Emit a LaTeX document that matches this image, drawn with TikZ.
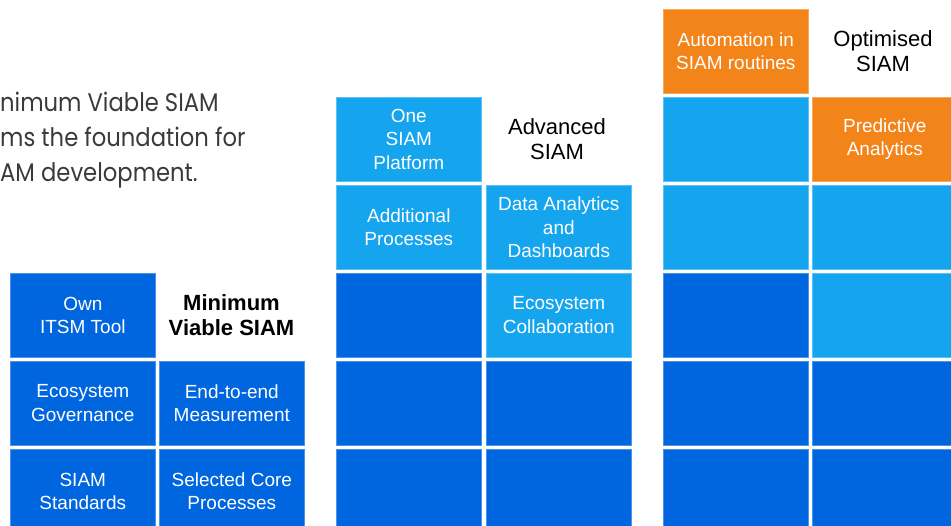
\documentclass[tikz,border=0pt]{standalone}
\usepackage{fontspec}
\setmainfont{Liberation Sans}
\newfontfamily\introfont{Poppins}
\definecolor{dkblue}{HTML}{0066DF}
\definecolor{ltblue}{HTML}{15A5EF}
\definecolor{orng}{HTML}{F28419}
\definecolor{introgray}{HTML}{3A3A3A}
\newcommand{\introline}[1]{\scalebox{0.89}[1]{#1}}
\tikzset{
  cell/.style={anchor=north west, minimum width=145pt, minimum height=84pt, inner sep=0pt,
    align=center, text=white, line width=0.6pt, font=\fontsize{19}{23.5}\selectfont},
  darkcell/.style={cell, fill=dkblue, draw=dkblue!70!white},
  lightcell/.style={cell, fill=ltblue, draw=ltblue!70!white},
  orangecell/.style={cell, fill=orng, draw=orng!70!white},
  heading/.style={anchor=center, align=center, text=black, inner sep=0pt, font=\fontsize{22}{25}\selectfont},
  intro/.style={anchor=base west, inner sep=0pt, text=introgray, font=\introfont\fontsize{25.5}{35}\selectfont},
}
\begin{document}
\begin{tikzpicture}[x=1pt, y=-1pt]
\useasboundingbox (0,0) rectangle (951,526);
\clip (0,0) rectangle (951,526);
% intro text
\node[intro] (t1) at (0,112) {\introline{nimum Viable SIAM}};
\node[intro] (t2) at (0,147) {\introline{ms the foundation for}};
\node[intro] (t3) at (0,182) {\introline{AM development.}};
% group 1: Minimum Viable SIAM
\node[darkcell] (a1) at (10,273) {Own\\ITSM Tool};
\node[heading, font=\fontsize{22}{25}\selectfont\bfseries] (ah) at (231.5,315) {Minimum\\Viable SIAM};
\node[darkcell] (a2) at (10,361) {Ecosystem\\Governance};
\node[darkcell] (a3) at (159,361) {End-to-end\\Measurement};
\node[darkcell] (a4) at (10,449) {SIAM\\Standards};
\node[darkcell] (a5) at (159,449) {Selected Core\\Processes};
% group 2: Advanced SIAM
\node[lightcell] (b1) at (336,97) {One\\SIAM\\Platform};
\node[heading] (bh) at (557,139) {Advanced\\SIAM};
\node[lightcell] (b2) at (336,185) {Additional\\Processes};
\node[lightcell] (b3) at (486,185) {Data Analytics\\and\\Dashboards};
\node[darkcell] (b4) at (336,273) {};
\node[lightcell] (b5) at (486,273) {Ecosystem\\Collaboration};
\node[darkcell] (b6) at (336,361) {};
\node[darkcell] (b7) at (486,361) {};
\node[darkcell] (b8) at (336,449) {};
\node[darkcell] (b9) at (486,449) {};
% group 3: Optimised SIAM
\node[orangecell] (c1) at (663,9) {Automation in\\SIAM routines};
\node[heading] (ch) at (883,51) {Optimised\\SIAM};
\node[lightcell] (c2) at (663,97) {};
\node[orangecell] (c3) at (812,97) {Predictive\\Analytics};
\node[lightcell] (c4) at (663,185) {};
\node[lightcell] (c5) at (812,185) {};
\node[darkcell] (c6) at (663,273) {};
\node[lightcell] (c7) at (812,273) {};
\node[darkcell] (c8) at (663,361) {};
\node[darkcell] (c9) at (812,361) {};
\node[darkcell] (c10) at (663,449) {};
\node[darkcell] (c11) at (812,449) {};
\end{tikzpicture}
\end{document}
